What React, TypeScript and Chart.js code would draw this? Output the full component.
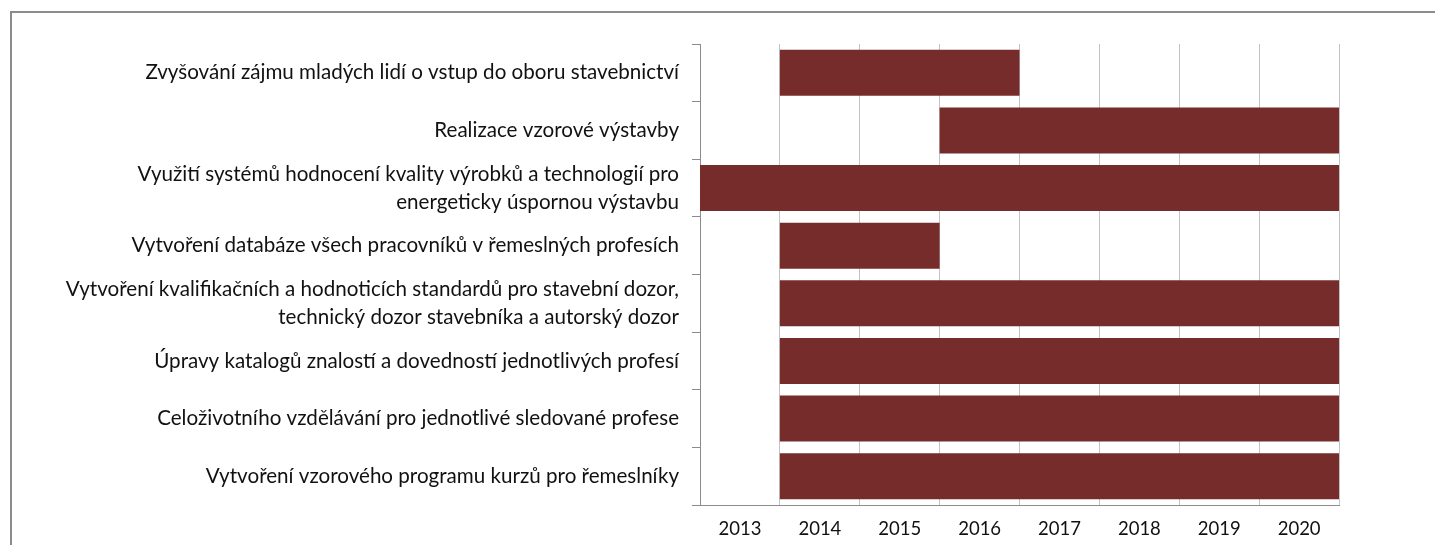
import React, { useEffect, useRef } from "react";
import { Chart, registerables } from "chart.js";

Chart.register(...registerables);

const activities: (string | string[])[] = [
  "Zvyšování zájmu mladých lidí o vstup do oboru stavebnictví",
  "Realizace vzorové výstavby",
  ["Využití systémů hodnocení kvality výrobků a technologií pro", "energeticky úspornou výstavbu"],
  "Vytvoření databáze všech pracovníků v řemeslných profesích",
  ["Vytvoření kvalifikačních a hodnoticích standardů pro stavební dozor,", "technický dozor stavebníka a autorský dozor"],
  "Úpravy katalogů znalostí a dovedností jednotlivých profesí",
  "Celoživotního vzdělávání pro jednotlivé sledované profese",
  "Vytvoření vzorového programu kurzů pro řemeslníky",
];

// first and last year (inclusive) of each activity
const startYears = [2014, 2016, 2013, 2014, 2014, 2014, 2014, 2014];
const endYears = [2016, 2020, 2020, 2015, 2020, 2020, 2020, 2020];

const yearLabels = ["2013", "2014", "2015", "2016", "2017", "2018", "2019", "2020"];

const BAR_COLOR = "#772c2c";
const FONT = "Lato, 'Open Sans', sans-serif";

export default function App() {
  const canvasRef = useRef<HTMLCanvasElement | null>(null);

  useEffect(() => {
    const canvas = canvasRef.current;
    if (!canvas) return;
    const firstYear = Number(yearLabels[0]);
    const lastYear = Number(yearLabels[yearLabels.length - 1]) + 1;
    const chart = new Chart(canvas, {
      type: "bar",
      data: {
        labels: activities,
        datasets: [
          {
            data: startYears.map((s, i) => [s, endYears[i] + 1]),
            backgroundColor: BAR_COLOR,
            borderWidth: 0,
            borderSkipped: false,
            barPercentage: 0.8,
            categoryPercentage: 1,
          },
        ],
      },
      options: {
        indexAxis: "y",
        responsive: false,
        animation: false,
        devicePixelRatio: 1,
        layout: { padding: { top: 44, right: 96, bottom: 0, left: 0 } },
        plugins: { legend: { display: false }, tooltip: { enabled: false } },
        scales: {
          x: {
            type: "linear",
            min: firstYear,
            max: lastYear,
            grid: { color: "#c4c4c4", lineWidth: 1, drawTicks: false },
            border: { display: true, color: "#8c8c8c", width: 1 },
            ticks: {
              stepSize: 1,
              autoSkip: false,
              maxRotation: 0,
              labelOffset: 40,
              padding: 13,
              color: "#111",
              font: { family: FONT, size: 18.5 },
              callback: (v: any) => {
                const idx = Number(v) - firstYear;
                return yearLabels[idx] ?? "";
              },
            },
            afterFit: (scale: any) => {
              scale.height = 40;
            },
          },
          y: {
            type: "category",
            offset: true,
            grid: {
              offset: true,
              drawOnChartArea: false,
              drawTicks: true,
              tickLength: 8,
              color: "#8c8c8c",
            },
            border: { display: true, color: "#8c8c8c", width: 1 },
            ticks: {
              autoSkip: false,
              padding: 13,
              color: "#111",
              font: { family: FONT, size: 20.6, lineHeight: 1.36 },
            },
            afterFit: (scale: any) => {
              scale.width = 700;
            },
          },
        },
      },
    });
    return () => chart.destroy();
  }, []);

  return (
    <div
      style={{
        position: "fixed",
        left: 0,
        top: 0,
        width: 1435,
        height: 545,
        overflow: "hidden",
        background: "#fff",
      }}
    >
      <div
        style={{
          position: "absolute",
          left: 10,
          top: 11,
          width: 1500,
          height: 600,
          borderLeft: "2px solid #8c8c8c",
          borderTop: "2px solid #8c8c8c",
        }}
      />
      <canvas
        ref={canvasRef}
        width={1435}
        height={545}
        style={{ position: "absolute", left: 0, top: 0, width: 1435, height: 545 }}
      />
    </div>
  );
}
